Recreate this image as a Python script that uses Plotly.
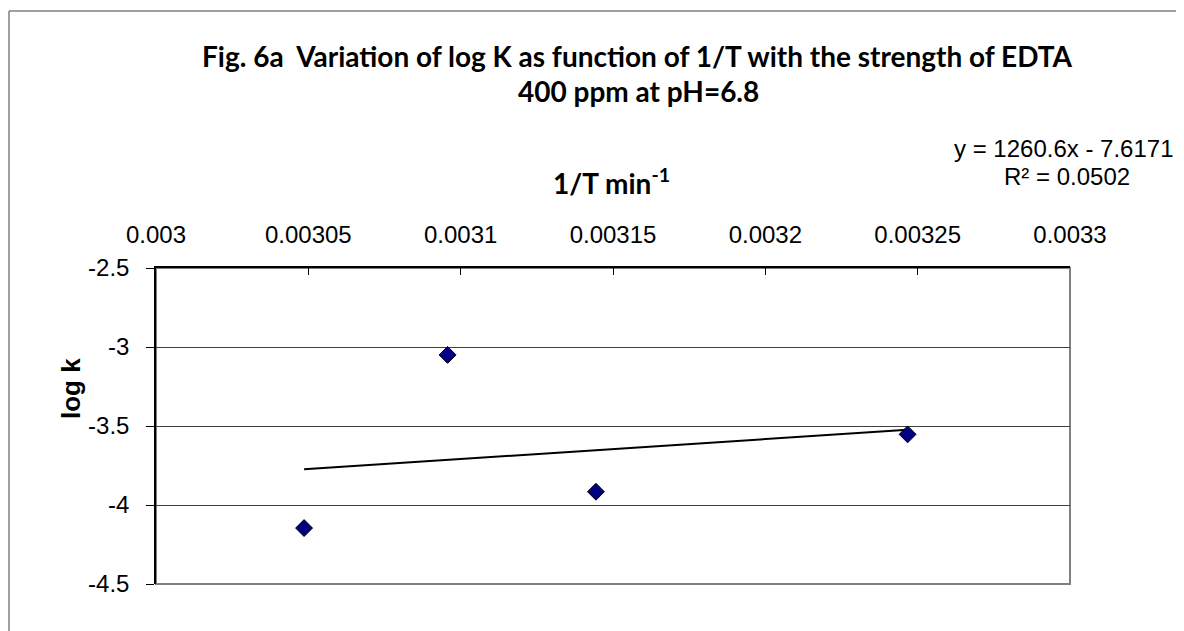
import plotly.graph_objects as go

# Data
inv_T = [0.0030486, 0.0030957, 0.0031444, 0.0032467]
log_k = [-4.146, -3.050, -3.916, -3.553]

# Linear trendline as reported on the chart
slope = 1260.6
intercept = -7.6171
trend_x = [min(inv_T), max(inv_T)]
trend_y = [slope * x + intercept for x in trend_x]

x_tickvals = [0.003, 0.00305, 0.0031, 0.00315, 0.0032, 0.00325, 0.0033]
x_ticktext = ["0.003", "0.00305", "0.0031", "0.00315", "0.0032", "0.00325", "0.0033"]
y_tickvals = [-2.5, -3, -3.5, -4, -4.5]
y_ticktext = ["-2.5", "-3", "-3.5", "-4", "-4.5"]

title_line1 = "Fig. 6a  Variation of log K as function of 1/T with the strength of EDTA"
title_line2 = "400 ppm at pH=6.8"
eq_line1 = "y = 1260.6x - 7.6171"
eq_line2 = "R² = 0.0502"

OFF = 8  # page body margin
W, H = 1184 - OFF, 631 - OFF
L, R, T, B = 156 - OFF, 1070 - OFF, 268 - OFF, 584 - OFF

def px(xp):
    return (xp - OFF - L) / (R - L)

def py(yp):
    return (B - (yp - OFF)) / (B - T)

fig = go.Figure()
fig.add_trace(go.Scatter(x=trend_x, y=trend_y, mode="lines",
                         line=dict(color="black", width=2), showlegend=False,
                         hoverinfo="skip"))
fig.add_trace(go.Scatter(x=inv_T, y=log_k, mode="markers",
                         marker=dict(symbol="diamond", size=13, color="#000080",
                                     line=dict(color="black", width=1)),
                         showlegend=False))

title_font = dict(family="Lato, Open Sans, sans-serif", size=28, color="black")
axis_font = dict(family="Liberation Sans, Arial, sans-serif", size=24, color="black")
border = dict(color="#808080", width=1.5)

fig.update_layout(
    width=W, height=H,
    margin=dict(l=L, r=W - R, t=T, b=H - B, autoexpand=False),
    paper_bgcolor="white", plot_bgcolor="white",
    xaxis=dict(range=[0.003, 0.0033], side="top", tickvals=x_tickvals,
               ticktext=x_ticktext, tickfont=axis_font, showgrid=False,
               zeroline=False, showline=True, linecolor="black", linewidth=1.5,
               ticks="inside", ticklen=7, tickcolor="black", ticklabelstandoff=14),
    yaxis=dict(range=[-4.5, -2.5], tickvals=y_tickvals, ticktext=y_ticktext,
               tickfont=axis_font, showgrid=True, gridcolor="#404040",
               gridwidth=1, zeroline=False, showline=True, linecolor="black",
               linewidth=1.5, ticks="outside", ticklen=8, tickcolor="black",
               ticklabelstandoff=12),
    shapes=[
        dict(type="rect", xref="paper", yref="paper", x0=0, x1=1, y0=0, y1=1,
             line=dict(color="#808080", width=2), layer="below"),
        dict(type="line", xref="paper", yref="paper", x0=px(9), x1=px(1300),
             y0=py(11), y1=py(11), line=border, layer="below"),
        dict(type="line", xref="paper", yref="paper", x0=px(9), x1=px(9),
             y0=py(11), y1=py(700), line=border, layer="below"),
    ],
    annotations=[
        dict(text="<b>" + title_line1 + "</b>", xref="paper", yref="paper",
             x=px(637), y=py(56), xanchor="center", yanchor="middle",
             showarrow=False, font=title_font),
        dict(text="<b>" + title_line2 + "</b>", xref="paper", yref="paper",
             x=px(638), y=py(91), xanchor="center", yanchor="middle",
             showarrow=False, font=title_font),
        dict(text="<b>1/T min<sup>-1</sup></b>", xref="paper", yref="paper",
             x=px(611), y=py(181), xanchor="center", yanchor="middle",
             showarrow=False, font=dict(family="Lato, Open Sans, sans-serif", size=28, color="black")),
        dict(text="<b>log k</b>", xref="paper", yref="paper",
             x=px(71), y=py(389), xanchor="center", yanchor="middle",
             textangle=-90, showarrow=False,
             font=dict(family="Liberation Sans, Arial, sans-serif", size=26, color="black")),
        dict(text=eq_line1, xref="paper", yref="paper", x=px(1064), y=py(148),
             xanchor="center", yanchor="middle", showarrow=False,
             font=dict(family="Liberation Sans, Arial, sans-serif", size=24, color="black")),
        dict(text=eq_line2, xref="paper", yref="paper", x=px(1067), y=py(176),
             xanchor="center", yanchor="middle", showarrow=False,
             font=dict(family="Liberation Sans, Arial, sans-serif", size=24, color="black")),
    ],
)

fig.write_html("out.html")
